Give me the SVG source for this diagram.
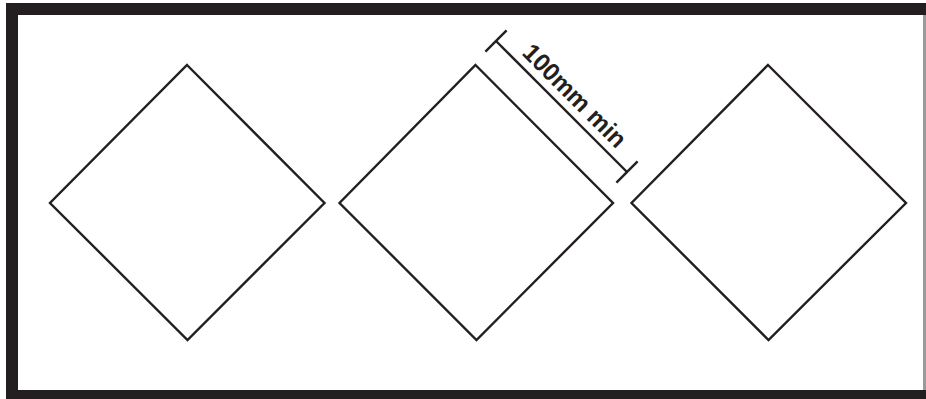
<svg xmlns="http://www.w3.org/2000/svg" width="926" height="399" viewBox="0 0 926 399">
<style>
.frame{fill:#231f20}
.dia{fill:#fff;stroke:#231f20;stroke-width:2.4;stroke-linejoin:miter}
.dim{stroke:#231f20;stroke-width:2.4;fill:none}
.lbl{font-family:"Liberation Sans",Arial,sans-serif;font-weight:bold;font-size:25px;fill:#231f20}
</style>
<rect width="926" height="399" fill="#fff"/>
<rect class="frame" x="6" y="3" width="920" height="396"/>
<rect x="18" y="15" width="905" height="375" fill="#fff"/>
<rect x="923" y="15" width="3" height="375" fill="#9a9a9a"/>
<g id="diamond-left"><polygon class="dia" points="187,65 324.5,203 187.5,340 50,203"/></g>
<g id="diamond-middle"><polygon class="dia" points="475.5,65 613,203 476.5,340 339.5,203"/></g>
<g id="diamond-right"><polygon class="dia" points="768,65 906,203 768.5,340 631.5,203"/></g>
<g id="connectors">
<line class="dim" x1="496" y1="41" x2="627" y2="172"/>
<line class="dim" x1="485.4" y1="51.6" x2="506.6" y2="30.4"/>
<line class="dim" x1="616.4" y1="182.6" x2="637.6" y2="161.4"/>
</g>
<g id="label"><text class="lbl" transform="translate(521,54) rotate(45)" textLength="135" lengthAdjust="spacingAndGlyphs">100mm min</text></g>
</svg>
